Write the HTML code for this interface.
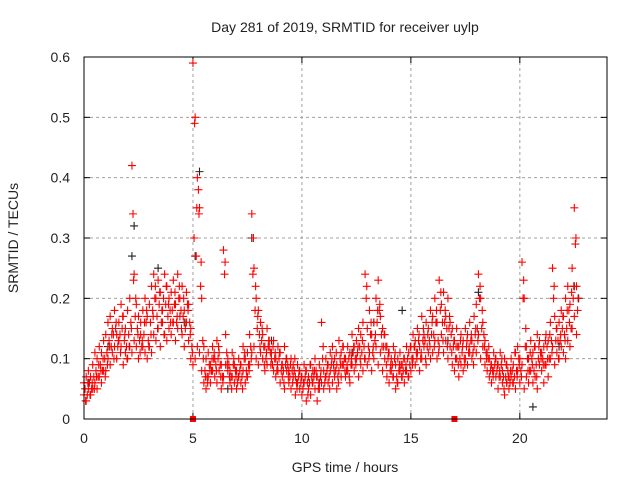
<!DOCTYPE html>
<html><head><meta charset="utf-8"><style>
body{margin:0;background:#fff}
svg{display:block;font-family:"Liberation Sans",sans-serif}
</style></head><body>
<svg id="chart" width="640" height="480" viewBox="0 0 640 480">
<text x="345" y="32" font-size="14" text-anchor="middle" fill="#222">Day 281 of 2019, SRMTID for receiver uylp</text>
<text x="345" y="472" font-size="14" text-anchor="middle" fill="#222">GPS time / hours</text>
<text transform="translate(18,238) rotate(-90)" font-size="14" text-anchor="middle" fill="#222">SRMTID / TECUs</text>
<g id="grid"></g>
<g id="ticks"></g>
<g id="black"></g>
<g id="red"></g>
<rect x="84" y="57" width="523" height="362" fill="none" stroke="#000" stroke-width="1"/>
</svg>
<script>
const xTicks=[0,5,10,15,20];
const yTicks=[0,0.1,0.2,0.3,0.4,0.5,0.6];
const yTickLabels=["0","0.1","0.2","0.3","0.4","0.5","0.6"];
const tStart=0, tStep=0.1;
const seriesA=[.04,.03,.05,.04,.05,.06,.05,.07,.06,.08,.08,.10,.09,.11,.12,.10,.13,.12,.09,.11,.10,.12,.11,.13,.12,.10,.14,.12,.11,.10,.12,.11,.14,.13,.15,.12,.16,.14,.13,.15,.14,.16,.13,.15,.17,.14,.12,.16,.13,.10,.09,.10,.12,.11,.08,.06,.05,.07,.06,.08,.07,.06,.08,.05,.07,.09,.08,.06,.07,.06,.05,.07,.06,.08,.06,.07,.09,.11,.12,.10,.09,.11,.10,.08,.09,.12,.10,.08,.07,.08,.06,.07,.05,.08,.06,.05,.07,.04,.06,.05,.04,.06,.03,.05,.04,.06,.05,.03,.05,.06,.05,.07,.06,.08,.06,.07,.05,.08,.07,.09,.07,.08,.06,.09,.08,.10,.07,.09,.08,.10,.09,.11,.08,.10,.12,.09,.11,.08,.10,.07,.06,.08,.07,.05,.06,.08,.07,.06,.08,.07,.08,.10,.09,.11,.08,.10,.12,.09,.11,.10,.11,.13,.10,.12,.14,.11,.13,.10,.12,.09,.08,.10,.07,.09,.08,.10,.09,.11,.10,.12,.11,.14,.10,.12,.09,.08,.07,.06,.08,.07,.05,.07,.06,.04,.06,.05,.07,.06,.05,.08,.06,.09,.05,.07,.06,.08,.06,.07,.05,.09,.08,.06,.09,.07,.10,.12,.09,.11,.10,.12,.11,.10,.13,.12,.15,.17,.14];
const seriesB=[.06,.07,.08,.07,.09,.11,.10,.12,.11,.13,.14,.16,.17,.15,.18,.14,.16,.19,.17,.15,.18,.20,.42,.24,.19,.17,.16,.18,.20,.17,.19,.22,.24,.20,.23,.21,.18,.24,.22,.20,.21,.23,.19,.24,.20,.22,.18,.21,.19,.15,.59,.50,.40,.35,.20,.12,.10,.11,.09,.12,.10,.13,.11,.09,.28,.14,.10,.08,.11,.09,.08,.10,.09,.12,.10,.11,.14,.34,.25,.20,.18,.16,.14,.12,.15,.13,.11,.13,.10,.12,.11,.09,.12,.10,.08,.10,.09,.07,.09,.08,.07,.09,.08,.07,.09,.08,.10,.07,.09,.16,.08,.10,.09,.11,.12,.10,.09,.13,.11,.12,.10,.12,.11,.14,.12,.13,.15,.14,.16,.24,.15,.18,.14,.16,.20,.23,.17,.15,.14,.12,.11,.10,.12,.09,.10,.11,.09,.10,.12,.11,.12,.14,.13,.15,.12,.17,.14,.16,.15,.18,.17,.20,.16,.23,.19,.21,.17,.20,.16,.15,.13,.15,.12,.14,.13,.15,.14,.16,.13,.17,.19,.24,.20,.16,.13,.11,.10,.09,.11,.10,.09,.11,.08,.10,.09,.07,.10,.09,.11,.12,.10,.26,.20,.12,.10,.13,.11,.12,.14,.13,.11,.12,.14,.13,.16,.25,.17,.15,.16,.18,.17,.20,.22,.19,.25,.35,.22];
const seriesC=[.05,.04,.06,.05,.07,.08,.07,.09,.08,.10,.11,.13,.12,.14,.15,.12,.14,.15,.13,.12,.14,.16,.34,.17,.15,.13,.12,.14,.16,.13,.16,.18,.20,.17,.19,.16,.20,.19,.17,.18,.18,.19,.16,.20,.18,.17,.15,.19,.16,.12,.30,.27,.38,.22,.13,.08,.07,.09,.08,.10,.09,.10,.09,.07,.24,.11,.09,.07,.09,.08,.06,.08,.07,.10,.08,.09,.12,.24,.18,.15,.14,.13,.12,.10,.12,.11,.09,.10,.08,.10,.08,.08,.09,.09,.07,.08,.08,.06,.07,.06,.05,.07,.06,.06,.07,.07,.08,.05,.07,.10,.06,.08,.07,.09,.09,.08,.07,.10,.09,.10,.08,.10,.09,.11,.10,.11,.12,.11,.12,.20,.12,.14,.11,.13,.16,.18,.14,.12,.12,.10,.08,.09,.10,.07,.08,.09,.08,.08,.10,.09,.10,.12,.11,.13,.10,.13,.13,.12,.13,.14,.14,.16,.13,.18,.16,.16,.15,.15,.14,.12,.10,.12,.10,.11,.10,.12,.11,.13,.11,.14,.15,.20,.15,.14,.11,.10,.08,.08,.09,.08,.07,.09,.07,.07,.08,.06,.08,.07,.08,.10,.08,.20,.12,.10,.08,.10,.08,.09,.10,.11,.10,.09,.12,.10,.13,.20,.13,.13,.13,.15,.14,.15,.18,.15,.20,.29,.18];
const seriesD=[.03,.06,.04,.06,.05,.07,.09,.08,.10,.07,.09,.12,.14,.10,.16,.13,.11,.17,.14,.10,.12,.15,.23,.20,.14,.11,.13,.16,.18,.12,.14,.17,.22,.15,.21,.18,.14,.22,.19,.16,.16,.21,.17,.22,.15,.20,.16,.18,.14,.11,.49,.35,.34,.26,.10,.07,.06,.08,.10,.11,.08,.12,.07,.06,.26,.09,.07,.05,.10,.07,.07,.09,.05,.11,.07,.08,.10,.30,.22,.17,.12,.15,.09,.11,.13,.09,.12,.11,.09,.11,.09,.06,.10,.07,.09,.06,.10,.05,.08,.07,.06,.08,.04,.09,.06,.08,.07,.06,.08,.12,.07,.09,.05,.10,.08,.11,.06,.09,.12,.08,.09,.07,.10,.12,.09,.12,.10,.13,.10,.22,.10,.16,.12,.14,.18,.19,.12,.14,.09,.11,.09,.07,.11,.06,.09,.07,.10,.09,.07,.12,.09,.12,.10,.14,.11,.15,.10,.14,.12,.16,.12,.18,.11,.21,.13,.18,.12,.17,.11,.13,.12,.09,.13,.12,.09,.13,.12,.14,.09,.15,.13,.22,.18,.12,.10,.12,.09,.07,.10,.09,.08,.10,.05,.09,.07,.08,.06,.11,.07,.09,.07,.23,.15,.08,.11,.09,.12,.07,.12,.10,.09,.13,.10,.14,.11,.22,.15,.10,.14,.17,.13,.18,.16,.21,.22,.30,.20];
const blackT=[0.2,1.1,2.2,2.3,3.4,4.6,5.1,5.3,6.6,7.7,8.6,9.4,10.8,12.3,13.3,14.6,16.7,18.1,19.4,20.6,21.8,22.5,22.7];
const blackV=[0.06,0.12,0.27,0.32,0.25,0.16,0.27,0.41,0.05,0.30,0.13,0.08,0.06,0.11,0.16,0.18,0.13,0.21,0.06,0.02,0.12,0.22,0.20];
const markT=[5,17];
const markV=[0,0];

const X0=84,X1=607,Y0=419,Y1=57,XMAX=24,YMAX=0.6;
const sx=t=>X0+(X1-X0)*t/XMAX;
const sy=v=>Y0-(Y0-Y1)*v/YMAX;
const NS="http://www.w3.org/2000/svg";
function mk(tag,attrs,parent){const e=document.createElementNS(NS,tag);for(const k in attrs)e.setAttribute(k,attrs[k]);parent.appendChild(e);return e;}
const grid=document.getElementById('grid'),ticks=document.getElementById('ticks');
xTicks.forEach(t=>{
  const x=sx(t);
  if(t>0){const l=mk('line',{x1:x,y1:Y0,x2:x,y2:Y1,stroke:'#a0a0a0','stroke-dasharray':'3,3'},grid);
  
  }
  mk('line',{x1:x,y1:Y0,x2:x,y2:Y0-6,stroke:'#000'},ticks);
  mk('line',{x1:x,y1:Y1,x2:x,y2:Y1+6,stroke:'#000'},ticks);
  const tx=mk('text',{x:x,y:443,'font-size':14,'text-anchor':'middle',fill:'#222'},ticks);
  tx.textContent=t;
  
  
});
yTicks.forEach((v,i)=>{
  const y=sy(v);
  if(v>0){const l=mk('line',{x1:X0,y1:y,x2:X1,y2:y,stroke:'#a0a0a0','stroke-dasharray':'3,3'},grid);
  
  }
  mk('line',{x1:X0,y1:y,x2:X0+6,y2:y,stroke:'#000'},ticks);
  mk('line',{x1:X1,y1:y,x2:X1-6,y2:y,stroke:'#000'},ticks);
  const tx=mk('text',{x:70,y:y+5,'font-size':14,'text-anchor':'end',fill:'#222'},ticks);
  tx.textContent=yTickLabels[i];
  
  
});
function plus(parent,t,v,col){
  const x=sx(t),y=sy(v);
  const p=mk('path',{d:`M${x-4} ${y}H${x+4}M${x} ${y-4}V${y+4}`,stroke:col,'stroke-width':1.1,fill:'none'},parent);
  
  
}
const blk=document.getElementById('black'),red=document.getElementById('red');
blackT.forEach((t,i)=>plus(blk,t,blackV[i],'#222'));
seriesA.forEach((v,i)=>plus(red,tStart+i*tStep,v,'#ff0000'));
seriesC.forEach((v,i)=>plus(red,tStart+i*tStep+tStep/2,v,'#ff0000'));
seriesD.forEach((v,i)=>plus(red,tStart+i*tStep+tStep*0.75,v,'#ff0000'));
seriesB.forEach((v,i)=>plus(red,tStart+i*tStep,v,'#ff0000'));
markT.forEach((t,i)=>{
  const r=mk('rect',{x:sx(t)-3,y:sy(markV[i])-3,width:6,height:6,fill:'#ff0000'},red);
  
  
});
</script>
</body></html>
